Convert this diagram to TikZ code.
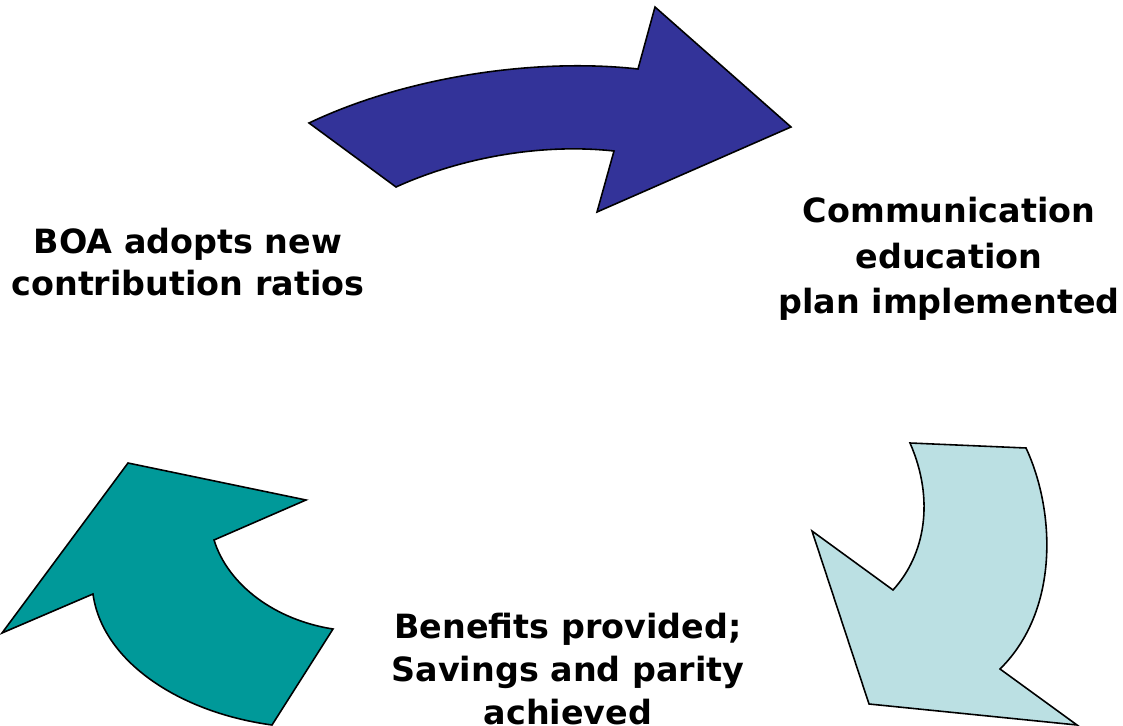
\documentclass[tikz,border=0pt]{standalone}
\usepackage{fontspec}
\setmainfont{DejaVu Sans}
\definecolor{navyarrow}{HTML}{333399}
\definecolor{paleteal}{HTML}{BBE0E3}
\definecolor{tealarrow}{HTML}{009999}
\begin{document}
\begin{tikzpicture}[x=0.02cm,y=-0.02cm,
  bigarrow/.style={draw=black,line width=0.9pt,line join=miter},
  label/.style={align=center,inner sep=0pt}]
\useasboundingbox (0,0) rectangle (1123,726);
% upper curved arrow, pointing right
\path[bigarrow,fill=navyarrow]
  (309,123) -- (396,187) .. controls (460,158) and (540,143) .. (614,151)
  -- (597,212) -- (791,127) -- (655,7) -- (638,69)
  .. controls (540,58) and (410,75) .. (309,123) -- cycle;
% right curved arrow, pointing down
\path[bigarrow,fill=paleteal]
  (910,443) -- (1026,448) .. controls (1055,510) and (1060,610) .. (1000,669)
  -- (1077,725) -- (869,704) -- (812,531) -- (893,590)
  .. controls (925,555) and (935,500) .. (910,443) -- cycle;
% left curved arrow, pointing up
\path[bigarrow,fill=tealarrow]
  (128,463) -- (306,500) -- (214,540)
  .. controls (228,585) and (275,620) .. (333,629)
  -- (272,725) .. controls (177,712) and (102,660) .. (93,594)
  -- (2,633) -- cycle;
% stage labels
\node[label,font=\bfseries\fontsize{19}{23.8}\selectfont] (boa) at (188,262)
  {BOA adopts new\\contribution ratios};
\node[label,font=\bfseries\fontsize{19}{25.8}\selectfont] (comm) at (949,259)
  {Communication\\education\\plan implemented};
\node[label,font=\bfseries\fontsize{19}{24.4}\selectfont] (benefits) at (568,669)
  {Benefits provided;\\Savings and parity\\achieved};
\end{tikzpicture}
\end{document}
